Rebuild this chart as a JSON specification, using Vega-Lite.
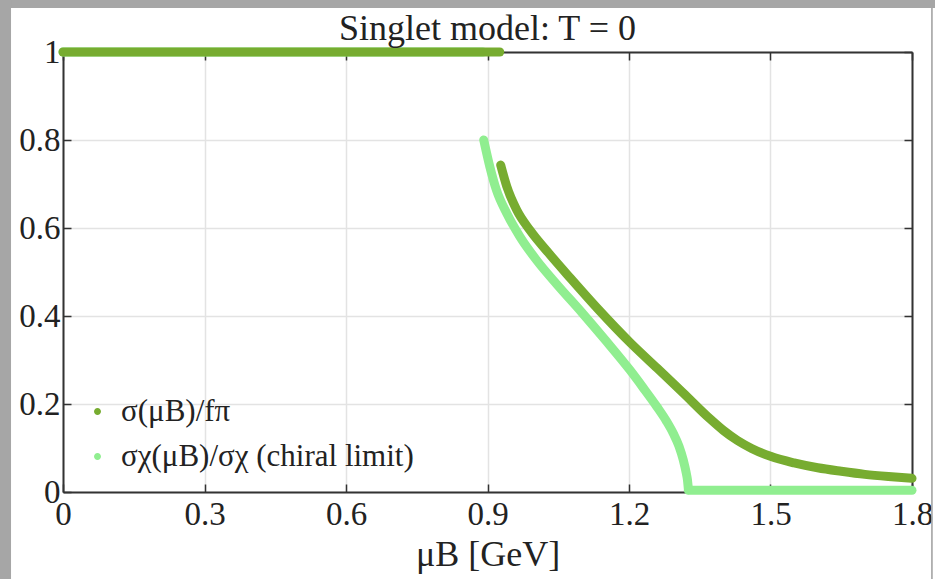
{
  "$schema": "https://vega.github.io/schema/vega-lite/v6.json",
  "width": 849,
  "height": 440,
  "autosize": {"type": "none"},
  "padding": {"left": 63, "top": 52, "right": 23, "bottom": 87},
  "background": "white",
  "title": {"text": "Singlet model: T = 0", "font": "Liberation Serif", "fontSize": 36, "fontWeight": "normal", "color": "#222222", "offset": -49},
  "datasets": {
    "frame": [
      {"x1": -0.2, "x2": 2.0, "y1": 1.12, "y2": 1.1},
      {"x1": -0.135, "x2": -0.1102, "y1": 1.12, "y2": -0.2},
      {"x1": 1.8405, "x2": 1.8440, "y1": 1.12, "y2": -0.2}
    ],
    "curves": [
      {"mu": 0, "ratio": 1, "series": "σχ(μB)/σχ (chiral limit)", "seg": "a"},
      {"mu": 0.89, "ratio": 1, "series": "σχ(μB)/σχ (chiral limit)", "seg": "a"},
      {"mu": 0.892, "ratio": 0.800, "series": "σχ(μB)/σχ (chiral limit)", "seg": "b"},
      {"mu": 0.905, "ratio": 0.739, "series": "σχ(μB)/σχ (chiral limit)", "seg": "b"},
      {"mu": 0.919, "ratio": 0.686, "series": "σχ(μB)/σχ (chiral limit)", "seg": "b"},
      {"mu": 0.941, "ratio": 0.633, "series": "σχ(μB)/σχ (chiral limit)", "seg": "b"},
      {"mu": 0.969, "ratio": 0.580, "series": "σχ(μB)/σχ (chiral limit)", "seg": "b"},
      {"mu": 1.004, "ratio": 0.527, "series": "σχ(μB)/σχ (chiral limit)", "seg": "b"},
      {"mu": 1.047, "ratio": 0.472, "series": "σχ(μB)/σχ (chiral limit)", "seg": "b"},
      {"mu": 1.100, "ratio": 0.408, "series": "σχ(μB)/σχ (chiral limit)", "seg": "b"},
      {"mu": 1.150, "ratio": 0.345, "series": "σχ(μB)/σχ (chiral limit)", "seg": "b"},
      {"mu": 1.202, "ratio": 0.277, "series": "σχ(μB)/σχ (chiral limit)", "seg": "b"},
      {"mu": 1.230, "ratio": 0.237, "series": "σχ(μB)/σχ (chiral limit)", "seg": "b"},
      {"mu": 1.259, "ratio": 0.194, "series": "σχ(μB)/σχ (chiral limit)", "seg": "b"},
      {"mu": 1.280, "ratio": 0.160, "series": "σχ(μB)/σχ (chiral limit)", "seg": "b"},
      {"mu": 1.294, "ratio": 0.133, "series": "σχ(μB)/σχ (chiral limit)", "seg": "b"},
      {"mu": 1.306, "ratio": 0.104, "series": "σχ(μB)/σχ (chiral limit)", "seg": "b"},
      {"mu": 1.315, "ratio": 0.073, "series": "σχ(μB)/σχ (chiral limit)", "seg": "b"},
      {"mu": 1.321, "ratio": 0.045, "series": "σχ(μB)/σχ (chiral limit)", "seg": "b"},
      {"mu": 1.324, "ratio": 0.027, "series": "σχ(μB)/σχ (chiral limit)", "seg": "b"},
      {"mu": 1.326, "ratio": 0.005, "series": "σχ(μB)/σχ (chiral limit)", "seg": "b"},
      {"mu": 1.326, "ratio": 0.004, "series": "σχ(μB)/σχ (chiral limit)", "seg": "c"},
      {"mu": 1.8, "ratio": 0.004, "series": "σχ(μB)/σχ (chiral limit)", "seg": "c"},
      {"mu": 0, "ratio": 1, "series": "σ(μB)/fπ", "seg": "a"},
      {"mu": 0.926, "ratio": 1, "series": "σ(μB)/fπ", "seg": "a"},
      {"mu": 0.928, "ratio": 0.743, "series": "σ(μB)/fπ", "seg": "b"},
      {"mu": 0.941, "ratio": 0.694, "series": "σ(μB)/fπ", "seg": "b"},
      {"mu": 0.962, "ratio": 0.641, "series": "σ(μB)/fπ", "seg": "b"},
      {"mu": 0.990, "ratio": 0.595, "series": "σ(μB)/fπ", "seg": "b"},
      {"mu": 1.032, "ratio": 0.540, "series": "σ(μB)/fπ", "seg": "b"},
      {"mu": 1.075, "ratio": 0.487, "series": "σ(μB)/fπ", "seg": "b"},
      {"mu": 1.135, "ratio": 0.415, "series": "σ(μB)/fπ", "seg": "b"},
      {"mu": 1.202, "ratio": 0.340, "series": "σ(μB)/fπ", "seg": "b"},
      {"mu": 1.260, "ratio": 0.281, "series": "σ(μB)/fπ", "seg": "b"},
      {"mu": 1.315, "ratio": 0.225, "series": "σ(μB)/fπ", "seg": "b"},
      {"mu": 1.372, "ratio": 0.166, "series": "σ(μB)/fπ", "seg": "b"},
      {"mu": 1.400, "ratio": 0.140, "series": "σ(μB)/fπ", "seg": "b"},
      {"mu": 1.430, "ratio": 0.117, "series": "σ(μB)/fπ", "seg": "b"},
      {"mu": 1.460, "ratio": 0.099, "series": "σ(μB)/fπ", "seg": "b"},
      {"mu": 1.500, "ratio": 0.081, "series": "σ(μB)/fπ", "seg": "b"},
      {"mu": 1.550, "ratio": 0.066, "series": "σ(μB)/fπ", "seg": "b"},
      {"mu": 1.600, "ratio": 0.055, "series": "σ(μB)/fπ", "seg": "b"},
      {"mu": 1.650, "ratio": 0.047, "series": "σ(μB)/fπ", "seg": "b"},
      {"mu": 1.700, "ratio": 0.040, "series": "σ(μB)/fπ", "seg": "b"},
      {"mu": 1.750, "ratio": 0.035, "series": "σ(μB)/fπ", "seg": "b"},
      {"mu": 1.800, "ratio": 0.031, "series": "σ(μB)/fπ", "seg": "b"}
    ]
  },
  "layer": [
    {
      "data": {"name": "frame"},
      "mark": {"type": "rect", "color": "#a6a6a6", "clip": false},
      "encoding": {
        "x": {"field": "x1", "type": "quantitative", "scale": {"domain": [0, 1.8], "nice": false, "zero": false}, "axis": null},
        "x2": {"field": "x2"},
        "y": {"field": "y1", "type": "quantitative", "scale": {"domain": [0, 1], "nice": false}, "axis": null},
        "y2": {"field": "y2"}
      }
    },
    {
      "data": {"name": "curves"},
      "transform": [{"filter": "datum.series !== 'σ(μB)/fπ'"}],
      "mark": {"type": "line", "strokeWidth": 9, "strokeCap": "round", "interpolate": "monotone", "clip": false},
      "encoding": {
        "x": {"field": "mu", "type": "quantitative", "scale": {"domain": [0, 1.8], "nice": false, "zero": false},
          "axis": {"orient": "bottom", "values": [0, 0.3, 0.6, 0.9, 1.2, 1.5, 1.8], "format": "~g", "title": "μB [GeV]", "titleFont": "Liberation Serif", "titleFontSize": 36, "titleFontWeight": "normal", "titleColor": "#222222", "titlePadding": 6,
            "labelFont": "Liberation Serif", "labelFontSize": 33, "labelColor": "#222222", "labelPadding": 14, "labelFlush": false,
            "domainColor": "#333333", "domainWidth": 2, "tickColor": "#333333", "tickWidth": 1.5, "tickSize": -8,
            "grid": true, "gridColor": "#e3e3e3", "gridWidth": 1.5}},
        "y": {"field": "ratio", "type": "quantitative", "scale": {"domain": [0, 1], "nice": false},
          "axis": {"orient": "left", "values": [0, 0.2, 0.4, 0.6, 0.8, 1], "format": "~g", "title": null,
            "labelFont": "Liberation Serif", "labelFontSize": 33, "labelColor": "#222222", "labelPadding": 11, "labelFlush": false,
            "domainColor": "#333333", "domainWidth": 2, "tickColor": "#333333", "tickWidth": 1.5, "tickSize": -8,
            "grid": true, "gridColor": "#e3e3e3", "gridWidth": 1.5}},
        "color": {"field": "series", "type": "nominal", "scale": {"domain": ["σ(μB)/fπ", "σχ(μB)/σχ (chiral limit)"], "range": ["#77ac30", "#90ee90"]},
          "legend": {"orient": "none", "legendX": 19, "legendY": 344, "title": null, "padding": 0, "symbolType": "circle", "symbolSize": 12, "symbolStrokeWidth": 3.5,
            "labelFont": "Liberation Serif", "labelFontSize": 31, "labelColor": "#222222", "labelOffset": 8, "rowPadding": 13, "labelLimit": 500}},
        "detail": {"field": "seg"}
      }
    },
    {
      "data": {"name": "curves"},
      "transform": [{"filter": "datum.series === 'σ(μB)/fπ'"}],
      "mark": {"type": "line", "strokeWidth": 9, "strokeCap": "round", "interpolate": "monotone", "clip": false},
      "encoding": {
        "x": {"field": "mu", "type": "quantitative", "scale": {"domain": [0, 1.8], "nice": false, "zero": false},
          "axis": {"orient": "top", "values": [0, 0.3, 0.6, 0.9, 1.2, 1.5, 1.8], "labels": false, "title": null,
            "domainColor": "#333333", "domainWidth": 2, "tickColor": "#333333", "tickWidth": 1.5, "tickSize": -8, "grid": false}},
        "y": {"field": "ratio", "type": "quantitative", "scale": {"domain": [0, 1], "nice": false},
          "axis": {"orient": "right", "values": [0, 0.2, 0.4, 0.6, 0.8, 1], "labels": false, "title": null,
            "domainColor": "#333333", "domainWidth": 2, "tickColor": "#333333", "tickWidth": 1.5, "tickSize": -8, "grid": false}},
        "color": {"field": "series", "type": "nominal", "scale": {"domain": ["σ(μB)/fπ", "σχ(μB)/σχ (chiral limit)"], "range": ["#77ac30", "#90ee90"]}},
        "detail": {"field": "seg"}
      }
    }
  ],
  "resolve": {"axis": {"x": "independent", "y": "independent"}},
  "config": {"view": {"stroke": null}}
}
